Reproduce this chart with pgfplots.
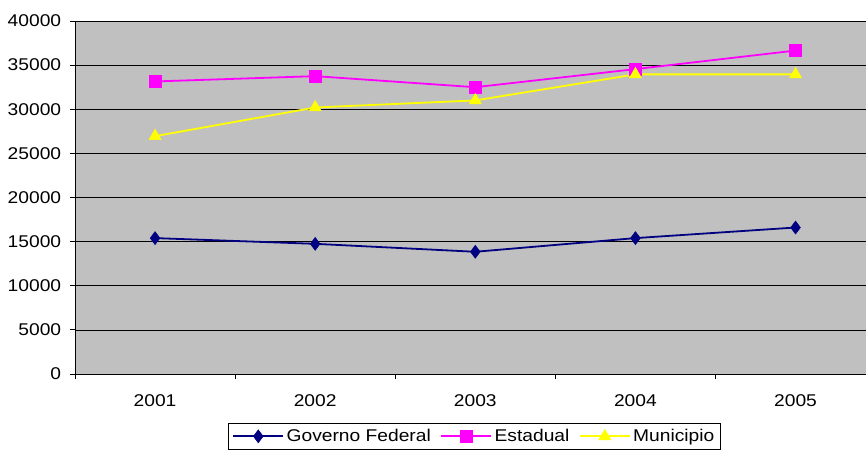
\documentclass[border=0pt]{standalone}
\usepackage{pgfplots}
\pgfplotsset{compat=1.18}
\usepackage{fontspec}
\setmainfont{Liberation Sans}[FakeStretch=1.13]
\definecolor{plotgray}{HTML}{C0C0C0}
\definecolor{fednavy}{HTML}{000080}
\definecolor{estmag}{HTML}{FF00FF}
\definecolor{munyel}{HTML}{FFFF00}
\begin{document}
\fontsize{17}{20}\selectfont
\begin{tikzpicture}
\begin{axis}[
  at={(0,0)}, anchor=south west,
  scale only axis, width=791pt, height=353pt,
  xmin=-0.5, xmax=4.44, ymin=0, ymax=40000,
  axis background/.style={fill=plotgray},
  axis x line*=bottom, axis y line*=left,
  axis line style={black, line width=0.8pt},
  ytick={0,5000,...,40000},
  ymajorgrids, grid style={black, line width=0.6pt},
  scaled y ticks=false,
  /pgf/number format/1000 sep={},
  /pgf/number format/assume math mode=true,
  yticklabel style={xshift=-3pt},
  xtick={-0.5,0.5,1.5,2.5,3.5}, xticklabels={},
  extra x ticks={0,1,2,3,4},
  extra x tick labels={2001,2002,2003,2004,2005},
  extra x tick style={grid=none, major tick length=0pt, tick label style={yshift=-15pt}},
  tick align=outside, major tick length=5pt, tick style={black, line width=0.8pt},
  legend style={at={(axis description cs:0.1934,-0.1388)}, anchor=north west,
    legend columns=3, draw=black, fill=white, line width=0.8pt,
    inner xsep=4pt, inner ysep=3pt,
    nodes={inner sep=2.5pt, line width=0.8pt},
    /tikz/every even column/.append style={column sep=7pt}},
  legend image code/.code={
    \draw[mark repeat=2,mark phase=2,#1] plot coordinates {(0pt,0pt) (25pt,0pt) (50pt,0pt)};},
]
\addplot[fednavy, line width=1.8pt, mark=diamond*, mark size=6.5pt, mark options={solid, fill=fednavy, draw=fednavy, line width=0.5pt}]
  coordinates {(0,15400) (1,14750) (2,13850) (3,15400) (4,16600)};
\addlegendentry{Governo Federal}
\addplot[estmag, line width=1.8pt, mark=square*, mark size=6pt, mark options={solid, fill=estmag, draw=estmag, line width=0.5pt}]
  coordinates {(0,33150) (1,33750) (2,32500) (3,34550) (4,36650)};
\addlegendentry{Estadual}
\addplot[munyel, line width=1.8pt, mark=triangle*, mark size=7pt, mark options={solid, fill=munyel, draw=munyel, line width=0.5pt}]
  coordinates {(0,26950) (1,30200) (2,31000) (3,33950) (4,33950)};
\addlegendentry{Municipio}
\end{axis}
\pgfresetboundingbox
\useasboundingbox (-75pt,-85pt) rectangle (791pt,374pt);
\end{tikzpicture}
\end{document}
